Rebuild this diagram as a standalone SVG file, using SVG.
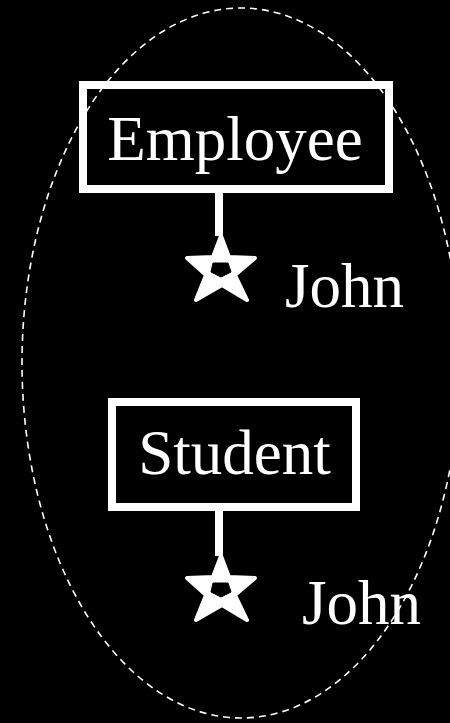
<svg xmlns="http://www.w3.org/2000/svg" width="450" height="723" viewBox="0 0 450 723">
<defs>
<style>
.box{fill:none;stroke:#fff;stroke-width:8}
.lbl{font-family:"Liberation Serif","Times New Roman",serif;font-size:63px;fill:#fff}
.conn{stroke:#fff;stroke-width:8;fill:none}
.starbody{fill:#fff;stroke:#fff;stroke-width:4;stroke-linejoin:round}
.hole{fill:#000;stroke:#000;stroke-width:1;stroke-linejoin:round}
</style>
<g id="star">
<path class="starbody" d="M0,-33 L8,-12 L34,-11 L14,6 L26,31 L1,16 L-25,31 L-15,6 L-34,-11 L-8,-12 Z"/>
<path class="hole" d="M-8,-6 L7,-6 L10,3 L0,8 L-10,3 Z"/>
</g>
</defs>
<rect width="450" height="723" fill="#000"/>
<ellipse id="boundary" cx="241" cy="363" rx="219" ry="355" fill="none" stroke="#fff" stroke-width="1.6" stroke-dasharray="7 5"/>
<g id="connectors">
<line class="conn" x1="219" y1="192" x2="219" y2="236"/>
<line class="conn" x1="219" y1="510" x2="219" y2="556"/>
</g>
<g id="employee">
<rect class="box" x="83" y="85" width="306" height="104"/>
<text class="lbl" x="235" y="160" text-anchor="middle">Employee</text>
</g>
<g id="student">
<rect class="box" x="112" y="402" width="244" height="105"/>
<text class="lbl" x="234.5" y="474" text-anchor="middle">Student</text>
</g>
<g id="john1">
<use href="#star" x="221" y="269"/>
<text class="lbl" x="285" y="307">John</text>
</g>
<g id="john2">
<use href="#star" x="221" y="589"/>
<text class="lbl" x="302" y="624">John</text>
</g>
</svg>
